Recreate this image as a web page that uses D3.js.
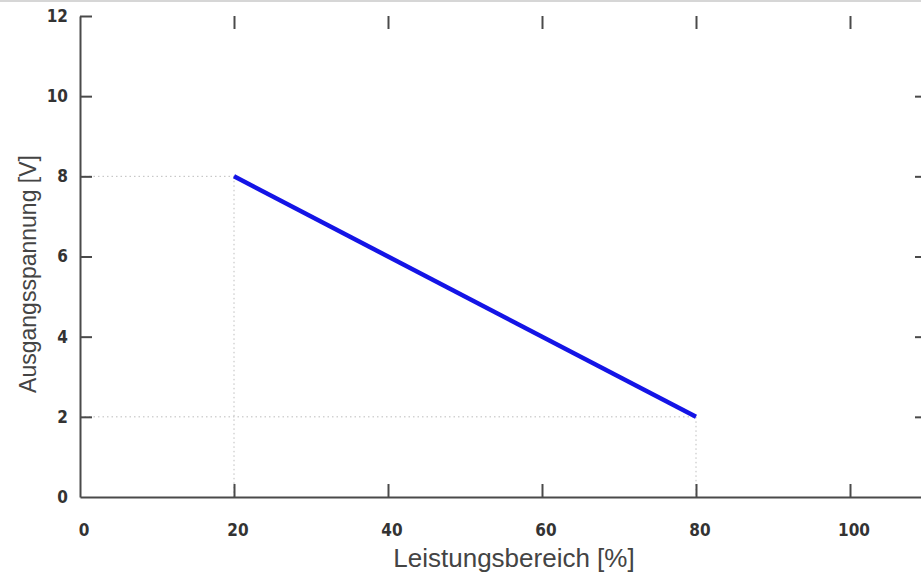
<!DOCTYPE html>
<html><head><meta charset="utf-8">
<script src="https://cdn.jsdelivr.net/npm/d3@7"></script>
<style>html,body{margin:0;padding:0;background:#fff;overflow:hidden}</style>
</head><body>
<svg id="c" width="921" height="579"></svg>
<script>
const xTicks = [0, 20, 40, 60, 80, 100];
const yTicks = [0, 2, 4, 6, 8, 10, 12];
const powerRange = [20, 80];      // Leistungsbereich [%]
const outputVoltage = [8, 2];     // Ausgangsspannung [V]
const xLabel = "Leistungsbereich [%]";
const yLabel = "Ausgangsspannung [V]";

const svg = d3.select("#c");
const x = d3.scaleLinear().domain([0, 110]).range([80, 927]);
const y = d3.scaleLinear().domain([0, 12]).range([497, 16]);
const axisColor = "#4a4a4a";

// top border strip
svg.append("rect").attr("x",0).attr("y",0).attr("width",921).attr("height",2).attr("fill","#d6d6d6");

const pts = powerRange.map((v,i)=>({x:v,y:outputVoltage[i]}));

// drop lines (dotted)
const g = svg.append("g").attr("stroke","#bdbdbd").attr("stroke-width",1).attr("stroke-dasharray","1.5,3");
pts.forEach(p=>{
  g.append("line").attr("x1",x(0)).attr("x2",x(p.x)).attr("y1",y(p.y)).attr("y2",y(p.y));
  g.append("line").attr("x1",x(p.x)).attr("x2",x(p.x)).attr("y1",y(p.y)).attr("y2",y(0));
});

// bottom axis
const xb = svg.append("g").attr("transform",`translate(0,${y(0)})`)
  .call(d3.axisBottom(x).tickValues(xTicks).tickSizeInner(-13).tickSizeOuter(0).tickPadding(27));
// left axis
const yl = svg.append("g").attr("transform",`translate(${x(0)},0)`)
  .call(d3.axisLeft(y).tickValues(yTicks).tickSizeInner(-12).tickSizeOuter(0).tickPadding(12));
// top ticks only
const xt = svg.append("g").attr("transform",`translate(0,${y(12)})`)
  .call(d3.axisTop(x).tickValues(xTicks.filter(v=>v>0)).tickSizeInner(-13).tickSizeOuter(0).tickFormat(""));
xt.select(".domain").remove();
// right ticks only
const yr = svg.append("g").attr("transform",`translate(${x(110)},0)`)
  .call(d3.axisRight(y).tickValues(yTicks.filter(v=>v>0&&v<12)).tickSizeInner(-12).tickSizeOuter(0).tickFormat(""));
yr.select(".domain").remove();

[xb,yl,xt,yr].forEach(a=>{
  a.selectAll(".domain").attr("stroke",axisColor).attr("stroke-width",2);
  a.selectAll(".tick line").attr("stroke",axisColor).attr("stroke-width",2);
  a.selectAll(".tick text").attr("fill","#333")
    .style("font-family","'DejaVu Sans Condensed','DejaVu Sans'")
    .style("font-weight","bold").style("font-size","17px");
});
xb.selectAll(".tick text").attr("dx","3.5");
xb.select(".tick line").attr("stroke-width",0);
yl.selectAll(".tick").filter(d=>d===0).select("line").attr("stroke-width",0);

// series line
svg.append("path").datum(pts)
  .attr("d", d3.line().x(d=>x(d.x)).y(d=>y(d.y)))
  .attr("fill","none").attr("stroke","#1414e6").attr("stroke-width",4.5).attr("stroke-linecap","butt");

// axis titles
svg.append("text").attr("x",514).attr("y",567).attr("text-anchor","middle")
  .style("font-family","'Liberation Sans',Arial,sans-serif").style("font-size","26px").attr("fill","#444")
  .text(xLabel);
svg.append("text").attr("transform","translate(36,274) rotate(-90)").attr("text-anchor","middle")
  .style("font-family","'Liberation Sans',Arial,sans-serif").style("font-size","23px").attr("fill","#444")
  .text(yLabel);
</script>
</body></html>
